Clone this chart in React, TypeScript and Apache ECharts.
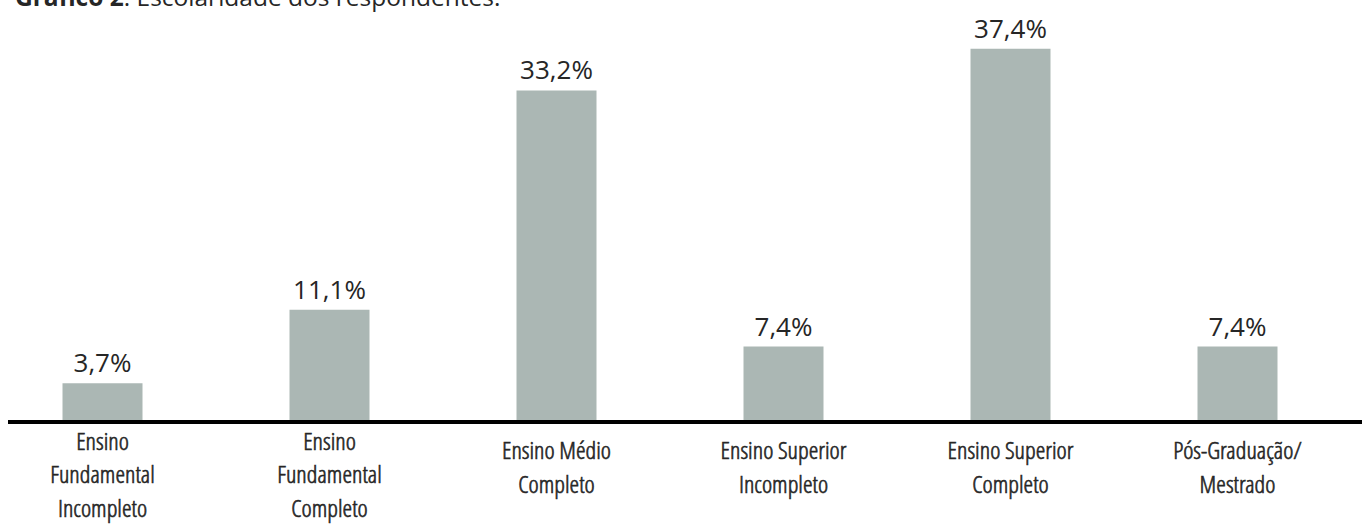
import React, { useEffect, useRef } from "react";
import * as echarts from "echarts";

const categories = [
  "Ensino\nFundamental\nIncompleto",
  "Ensino\nFundamental\nCompleto",
  "Ensino Médio\nCompleto",
  "Ensino Superior\nIncompleto",
  "Ensino Superior\nCompleto",
  "Pós-Graduação/\nMestrado",
];
const values = [3.7, 11.1, 33.2, 7.4, 37.4, 7.4];
const titleBold = "Gráfico 2";
const titleRest = ": Escolaridade dos respondentes.";

const fmt = (v: number) => v.toFixed(1).replace(".", ",") + "%";

export default function App() {
  const ref = useRef<HTMLDivElement>(null);
  useEffect(() => {
    if (!ref.current) return;
    const chart = echarts.init(ref.current, undefined, { renderer: "svg" });
    chart.setOption({
      animation: false,
      backgroundColor: "#ffffff",
      grid: {
        left: 0,
        right: 11,
        top: 23,
        bottom: 106,
        containLabel: false,
        outerBoundsMode: "none",
      },
      xAxis: {
        type: "category",
        data: categories,
        axisLine: { show: false },
        axisTick: { show: false },
        axisLabel: {
          interval: 0,
          margin: 46.5,
          verticalAlign: "middle",
          hideOverlap: false,
          color: "#262626",
          textBorderColor: "#262626",
          textBorderWidth: 0.6,
          fontFamily: "'Open Sans Condensed Light', 'Open Sans', sans-serif",
          fontSize: 24.5,
          lineHeight: 33.5,
          formatter: (v: string) =>
            v.split("\n").length >= 3 ? "{s|}\n" + v : v,
          rich: {
            s: { lineHeight: 14, fontSize: 1 },
          },
        },
      },
      yAxis: {
        type: "value",
        min: 0,
        max: 40,
        show: false,
        splitLine: { show: false },
      },
      series: [
        {
          type: "bar",
          data: values,
          barWidth: 80,
          itemStyle: { color: "#abb7b4" },
          label: {
            show: true,
            position: "top",
            distance: 8,
            formatter: (p: any) => fmt(p.value),
            color: "#262626",
            fontFamily: "'Open Sans', sans-serif",
            fontSize: 26,
          },
        },
      ],
      graphic: [
        {
          type: "line",
          shape: { x1: 19, y1: 422, x2: 1373, y2: 422 },
          style: { stroke: "#000000", lineWidth: 4 },
          z: 10,
        },
        {
          type: "text",
          left: 26,
          top: -16,
          style: {
            text: "{b|" + titleBold + "}{r|" + titleRest + "}",
            rich: {
              b: { fontFamily: "'Open Sans', sans-serif", fontWeight: "bold", fontSize: 24.5, fill: "#262626" },
              r: { fontFamily: "'Open Sans', sans-serif", fontSize: 24.5, fill: "#262626" },
            },
          },
        },
      ],
    });
    return () => chart.dispose();
  }, []);
  return (
    <div
      ref={ref}
      style={{ position: "absolute", left: -11, top: 0, width: 1373, height: 526 }}
    />
  );
}
